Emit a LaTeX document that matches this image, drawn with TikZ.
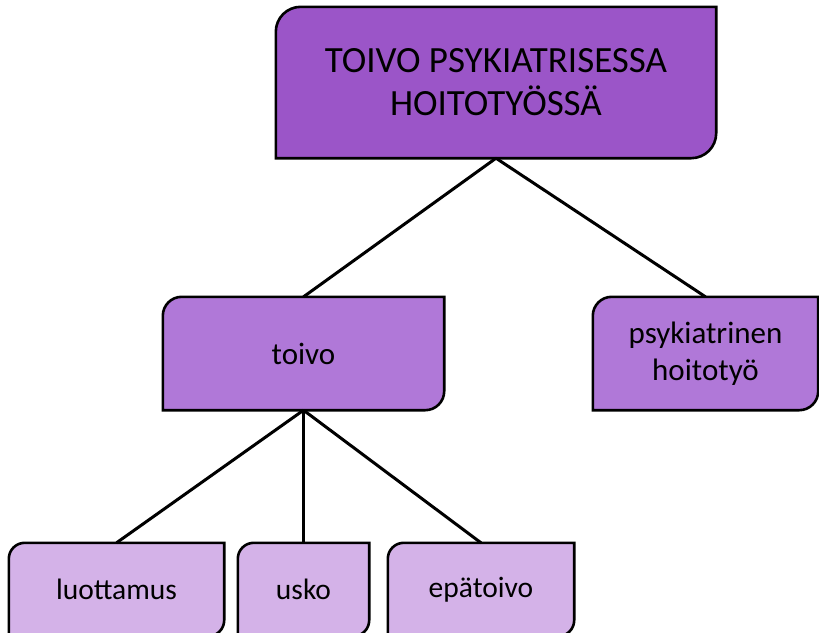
\documentclass[tikz,border=0pt]{standalone}
\usepackage{fontspec}
\setmainfont{Carlito}
\usetikzlibrary{backgrounds}

\definecolor{toplevel}{RGB}{155,85,200}
\definecolor{midlevel}{RGB}{176,120,216}
\definecolor{lowlevel}{RGB}{212,178,232}

\tikzset{
  topic/.style={inner sep=0pt, align=center, font=\fontsize{37}{43}\selectfont},
  subtopic/.style={inner sep=0pt, align=center, font=\fontsize{31}{37}\selectfont},
  leaf/.style={inner sep=0pt, align=center, font=\fontsize{29.5}{35}\selectfont},
  boxline/.style={draw=black, line width=2.6pt},
  link/.style={draw=black, line width=3pt}
}

\begin{document}
\begin{tikzpicture}[x=1pt,y=1pt]

\useasboundingbox (0,0) rectangle (819,-632);

% Define boxes
\node[topic, minimum width=440pt, minimum height=151pt] (main) at (496,-82.5) {TOIVO PSYKIATRISESSA\\HOITOTYÖSSÄ};
\node[subtopic, minimum width=281pt, minimum height=113pt] (toivo) at (303.5,-353.5) {toivo};
\node[subtopic, minimum width=225pt, minimum height=113pt] (hoito) at (705.5,-353.5) {psykiatrinen\\hoitotyö};
\node[leaf, minimum width=215pt, minimum height=93pt] (luottamus) at (116.5,-589.5) {luottamus};
\node[leaf, minimum width=131pt, minimum height=93pt] (usko) at (303.5,-589.5) {usko};
\node[leaf, minimum width=186pt, minimum height=93pt] (epatoivo) at (481,-589.5) {epätoivo};

% Box outlines with two rounded corners
\begin{scope}[on background layer]
\foreach \n/\r/\c in {main/25/toplevel, toivo/19/midlevel, hoito/19/midlevel,
                      luottamus/16/lowlevel, usko/16/lowlevel, epatoivo/16/lowlevel} {
  \path[boxline, fill=\c] (\n.south west) -- ([yshift=-\r pt]\n.north west)
    arc[start angle=180, end angle=90, radius=\r pt] -- (\n.north east)
    -- ([yshift=\r pt]\n.south east)
    arc[start angle=0, end angle=-90, radius=\r pt] -- cycle;
}
\end{scope}

% Draw connectors
\draw[link] (main.south) -- (toivo.north);
\draw[link] (main.south) -- (hoito.north);
\draw[link] (toivo.south) -- (luottamus.north);
\draw[link] (toivo.south) -- (usko.north);
\draw[link] (toivo.south) -- (epatoivo.north);

\end{tikzpicture}
\end{document}
